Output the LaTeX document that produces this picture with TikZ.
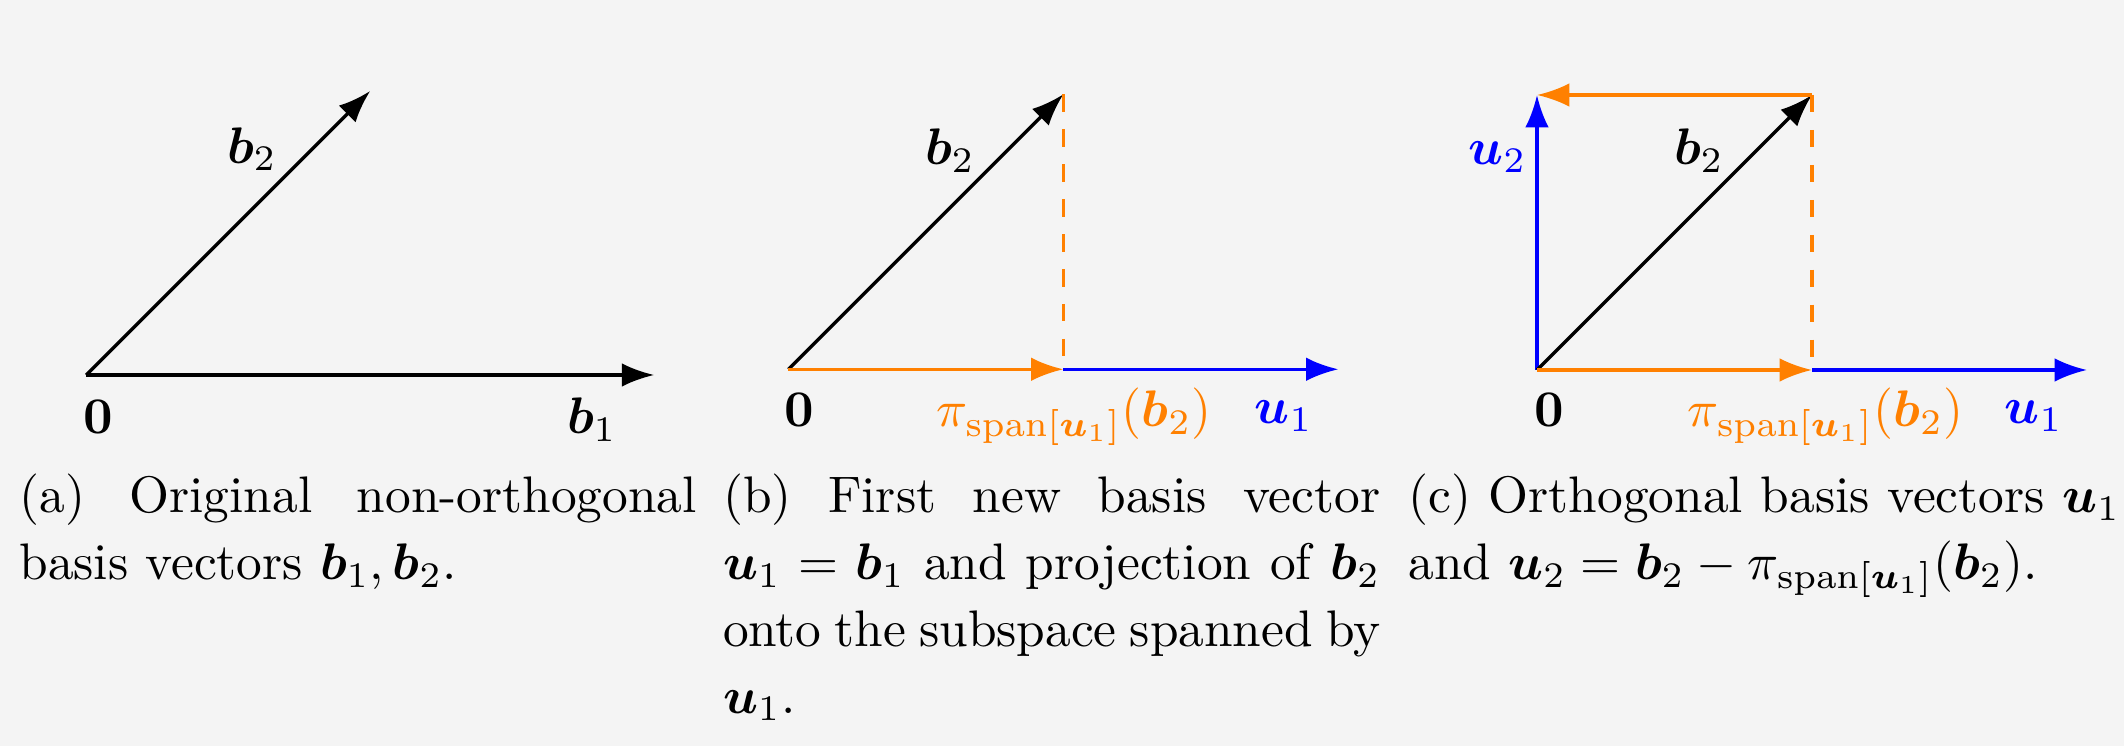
\documentclass[tikz,border=0pt]{standalone}
\usepackage{xcolor}
\usepackage{amssymb}
\usepackage{amsmath}
\usepackage{tikz}
\usetikzlibrary{arrows.meta,positioning,calc}
\definecolor{fond}{RGB}{244,244,244}
\definecolor{orangeproj}{RGB}{255,128,0}
\definecolor{bleuvec}{RGB}{0,0,255}

\begin{document}
\begin{tikzpicture}[x=0.6838mm,y=0.6838mm]
\tikzstyle{fleche}=[-{Latex[length=6.3pt,width=4.6pt]},line width=0.65pt]
\tikzstyle{pointilles}=[orangeproj,line width=0.65pt,dash pattern=on 3.4pt off 3.4pt]
\tikzstyle{etiquette}=[inner sep=0pt,anchor=base]
\tikzstyle{legende}=[inner sep=0pt,anchor=base west,align=justify,font=\fontsize{10}{13}\selectfont]
\def\Largeur{212.4}
\def\Hauteur{74.6}
\def\UniteA{28.4}
\def\UniteB{27.5}
\def\NiveauEtiqA{31.2}
\def\NiveauEtiqB{31.9}
\def\NiveauHaut{58.1}
\def\NiveauLegende{23.33}
\fill[fond] (0,0) rectangle (\Largeur,\Hauteur);
\useasboundingbox (0,0) rectangle (\Largeur,\Hauteur);
% (a) base d'origine
\coordinate (Oa) at (8.62,37.1);
\coordinate (Ba1) at ({8.62+2*\UniteA},37.1);
\coordinate (Ba2) at ({8.62+\UniteA},{37.1+\UniteA});
\draw[fleche] (Oa)--(Ba1);
\draw[fleche] (Oa)--(Ba2);
\node[etiquette] (Za) at (9.84,\NiveauEtiqA) {$\mathbf{0}$};
\node[etiquette] (La1) at (59.2,\NiveauEtiqA) {$\boldsymbol{b}_1$};
\node[etiquette] (La2) at (25.2,58.27) {$\boldsymbol{b}_2$};
% (b) projection sur u1
\coordinate (Ob) at (78.84,37.67);
\coordinate (Pb) at ({78.84+\UniteB},37.67);
\coordinate (Ub) at ({78.84+2*\UniteB},37.67);
\coordinate (Cb) at ({78.84+\UniteB},{37.67+\UniteB});
\draw[fleche] (Ob)--(Cb);
\draw[pointilles] (Cb)--(Pb);
\draw[fleche,bleuvec] (Pb)--(Ub);
\draw[fleche,orangeproj] (Ob)--(Pb);
\node[etiquette] (Zb) at (79.95,\NiveauEtiqB) {$\mathbf{0}$};
\node[etiquette,orangeproj] (Pib) at (107.4,\NiveauEtiqB) {$\pi_{\mathrm{span}[\boldsymbol{u}_1]}(\boldsymbol{b}_2)$};
\node[etiquette,bleuvec] (Lub) at (128.4,32.2) {$\boldsymbol{u}_1$};
\node[etiquette] (Lbb) at (95.0,\NiveauHaut) {$\boldsymbol{b}_2$};
% (c) base orthogonale
\coordinate (Oc) at (153.7,37.6);
\coordinate (Pc) at ({153.7+\UniteB},37.6);
\coordinate (Uc) at ({153.7+2*\UniteB},37.6);
\coordinate (Cc) at ({153.7+\UniteB},{37.6+\UniteB});
\coordinate (Vc) at (153.7,{37.6+\UniteB});
\draw[fleche,bleuvec] (Oc)--(Vc);
\draw[fleche] (Oc)--(Cc);
\draw[pointilles] (Cc)--(Pc);
\draw[fleche,bleuvec] (Pc)--(Uc);
\draw[fleche,orangeproj] (Oc)--(Pc);
\draw[fleche,orangeproj] (Cc)--(Vc);
\node[etiquette] (Zc) at (154.97,\NiveauEtiqB) {$\mathbf{0}$};
\node[etiquette,orangeproj] (Pic) at (182.56,\NiveauEtiqB) {$\pi_{\mathrm{span}[\boldsymbol{u}_1]}(\boldsymbol{b}_2)$};
\node[etiquette,bleuvec] (Luc) at (203.4,32.2) {$\boldsymbol{u}_1$};
\node[etiquette] (Lbc) at (169.9,\NiveauHaut) {$\boldsymbol{b}_2$};
\node[etiquette,bleuvec] (Lvc) at (149.76,\NiveauHaut) {$\boldsymbol{u}_2$};
% legendes
\node[legende,text width=131.8pt] (Lega) at (1.84,\NiveauLegende) {(a) Original non-orthogonal\linebreak basis vectors $\boldsymbol{b}_1, \boldsymbol{b}_2$.};
\node[legende,text width=127.9pt] (Legb) at (72.2,\NiveauLegende) {(b) First new basis vector\linebreak $\boldsymbol{u}_1 = \boldsymbol{b}_1$ and projection of $\boldsymbol{b}_2$\linebreak onto the subspace spanned by\linebreak $\boldsymbol{u}_1$.};
\node[legende,text width=138.5pt] (Legc) at (140.75,\NiveauLegende) {(c) Orthogonal basis vectors $\boldsymbol{u}_1$\linebreak and $\boldsymbol{u}_2 = \boldsymbol{b}_2 - \pi_{\mathrm{span}[\boldsymbol{u}_1]}(\boldsymbol{b}_2)$.};
\end{tikzpicture}
\end{document}
